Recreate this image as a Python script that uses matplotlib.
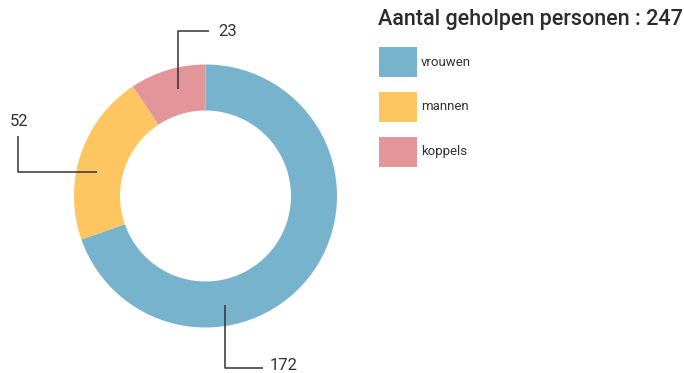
import matplotlib.pyplot as plt
from matplotlib.patches import Rectangle

labels = ["vrouwen", "mannen", "koppels"]
values = [172, 52, 23]
colors = ["#78b3cd", "#fdc660", "#e3959a"]
total = sum(values)

W, H = 684, 373
fig = plt.figure(figsize=(W / 100, H / 100), dpi=100)
ax = fig.add_axes([0, 0, 1, 1])

# donut, clockwise from twelve o'clock
cx, cy, r = 205.5, H - 196, 131.5
ax.pie(values, colors=colors, startangle=90, counterclock=False,
       center=(cx, cy), radius=r, frame=True,
       wedgeprops=dict(width=r * 0.35, linewidth=0))
ax.set_xlim(0, W)
ax.set_ylim(0, H)
ax.set_aspect("equal")
ax.axis("off")

# leader lines: (anchor in ring, elbow, end), label position, alignment
leaders = [
    ([(225, 305), (225, 368), (263, 368)], (270, 365), "left"),
    ([(97, 172), (18, 172), (18, 136)], (19, 122), "center"),
    ([(178, 89), (178, 31), (209, 31)], (218, 31), "left"),
]
ink = "#333333"
for val, (pts, (tx, ty), ha) in zip(values, leaders):
    xs = [p[0] for p in pts]
    ys = [H - p[1] for p in pts]
    ax.plot(xs, ys, color=ink, lw=1.1, solid_capstyle="butt")
    ax.text(tx, H - ty, str(val), ha=ha, va="center", fontsize=12,
            color=ink, family="Roboto")

# title and legend
ax.text(378, H - 20, f"Aantal geholpen personen : {total}", ha="left",
        va="center", fontsize=15.5, color="#2b2b2b", family="Roboto",
        fontweight="medium")
for i, (lab, col) in enumerate(zip(labels, colors)):
    top = 47 + i * 45
    ax.add_patch(Rectangle((379, H - top - 30), 38, 30, color=col, lw=0))
    ax.text(421, H - top - 15, lab, ha="left", va="center", fontsize=9.5,
            color="#333333", family="Roboto")

fig.savefig("out.png", dpi=100)
